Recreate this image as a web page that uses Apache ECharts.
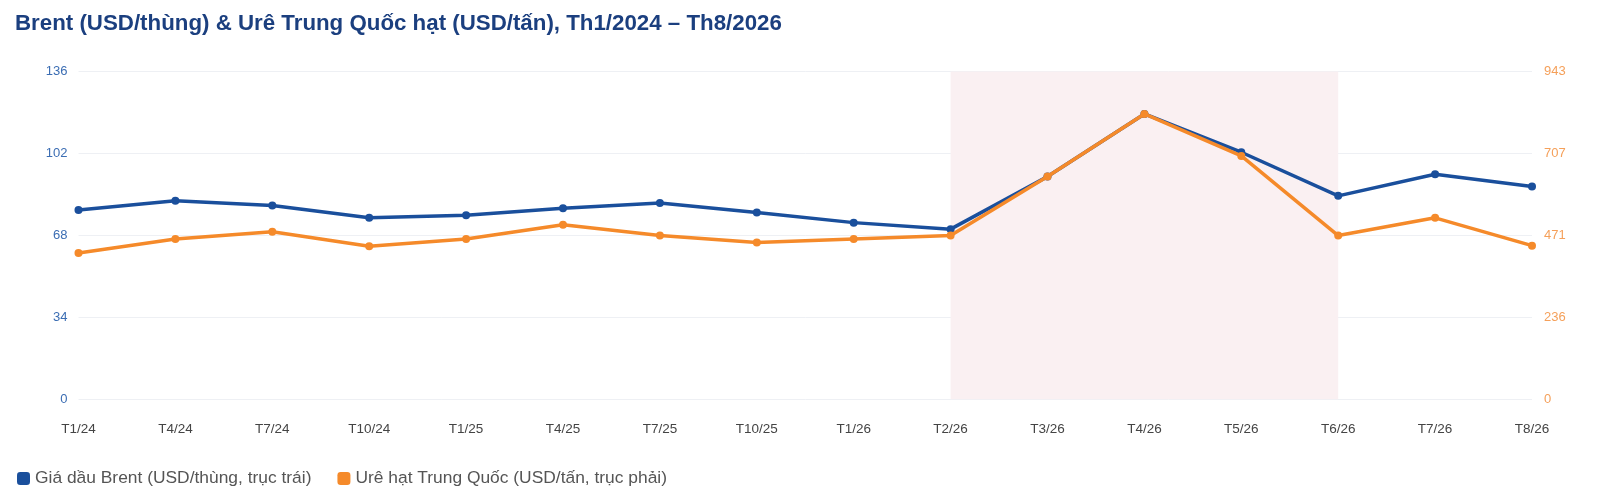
<!DOCTYPE html>
<html>
<head>
<meta charset="utf-8">
<script src="https://cdn.jsdelivr.net/npm/echarts@6/dist/echarts.min.js"></script>
<style>
  html, body { margin: 0; padding: 0; background: #fff; }
  #chart { width: 1600px; height: 501px; }
</style>
</head>
<body>
<div id="chart"></div>
<script>
// Dữ liệu
var months = ['T1/24', 'T4/24', 'T7/24', 'T10/24', 'T1/25', 'T4/25', 'T7/25', 'T10/25',
              'T1/26', 'T2/26', 'T3/26', 'T4/26', 'T5/26', 'T6/26', 'T7/26', 'T8/26'];
var brent = [78.5, 82.4, 80.4, 75.3, 76.4, 79.3, 81.4, 77.5, 73.3, 70.6, 92.4, 118.4, 102.5, 84.4, 93.4, 88.3];
var urea = [421, 461, 482, 440, 461, 502, 471, 451, 461, 471, 641, 821, 700, 471, 522, 442];
var leftTicks = [0, 34, 68, 102, 136];
var rightTicks = [0, 236, 471, 707, 943];
var shadeRange = ['T2/26', 'T6/26'];

var chart = echarts.init(document.getElementById('chart'));

var option = {
    backgroundColor: '#fff',
    animation: false,
    title: {
        text: 'Brent (USD/thùng) & Urê Trung Quốc hạt (USD/tấn), Th1/2024 – Th8/2026',
        left: 10,
        top: 8,
        textStyle: {
            fontFamily: 'Liberation Sans, Arial, sans-serif',
            fontSize: 22.3,
            fontWeight: 'bold',
            color: '#1b3f7f'
        }
    },
    legend: {
        left: 12,
        bottom: 9,
        itemWidth: 13,
        itemHeight: 13,
        itemGap: 26,
        icon: 'roundRect',
        textStyle: {
            fontFamily: 'Liberation Sans, Arial, sans-serif',
            fontSize: 17.4,
            color: '#555'
        },
        data: ['Giá dầu Brent (USD/thùng, trục trái)', 'Urê hạt Trung Quốc (USD/tấn, trục phải)']
    },
    grid: {
        left: 78.5,
        right: 68,
        top: 71.5,
        bottom: 101.7
    },
    xAxis: {
        type: 'category',
        boundaryGap: false,
        data: months,
        axisLine: { show: false },
        axisTick: { show: false },
        axisLabel: {
            margin: 23,
            fontFamily: 'Liberation Sans, Arial, sans-serif',
            fontSize: 13.5,
            color: '#444'
        }
    },
    yAxis: [
        {
            type: 'value',
            min: leftTicks[0],
            max: leftTicks[leftTicks.length - 1],
            interval: 34,
            axisLine: { show: false },
            axisTick: { show: false },
            axisLabel: {
                margin: 11,
                fontFamily: 'Liberation Sans, Arial, sans-serif',
                fontSize: 13,
                color: '#3b6db3'
            },
            splitLine: { lineStyle: { color: '#eef0f4', width: 1 } }
        },
        {
            type: 'value',
            min: 0,
            max: 943,
            interval: 943 / 4,
            axisLine: { show: false },
            axisTick: { show: false },
            axisLabel: {
                margin: 12,
                fontFamily: 'Liberation Sans, Arial, sans-serif',
                fontSize: 13,
                color: '#f5a05a',
                formatter: function (v) {
                    var i = Math.round(v / (943 / 4));
                    return rightTicks[i];
                }
            },
            splitLine: { show: false }
        }
    ],
    series: [
        {
            name: 'Giá dầu Brent (USD/thùng, trục trái)',
            type: 'line',
            yAxisIndex: 0,
            data: brent,
            symbol: 'circle',
            symbolSize: 8,
            z: 3,
            lineStyle: { width: 3.5, color: '#1a4f9c' },
            itemStyle: { color: '#1a4f9c' },
            markArea: {
                silent: true,
                itemStyle: { color: '#faf0f2' },
                data: [[{ xAxis: shadeRange[0] }, { xAxis: shadeRange[1] }]]
            }
        },
        {
            name: 'Urê hạt Trung Quốc (USD/tấn, trục phải)',
            type: 'line',
            yAxisIndex: 1,
            data: urea,
            symbol: 'circle',
            symbolSize: 8,
            z: 4,
            lineStyle: { width: 3.5, color: '#f58a2a' },
            itemStyle: { color: '#f58a2a' }
        }
    ]
};

chart.setOption(option);
</script>
</body>
</html>
